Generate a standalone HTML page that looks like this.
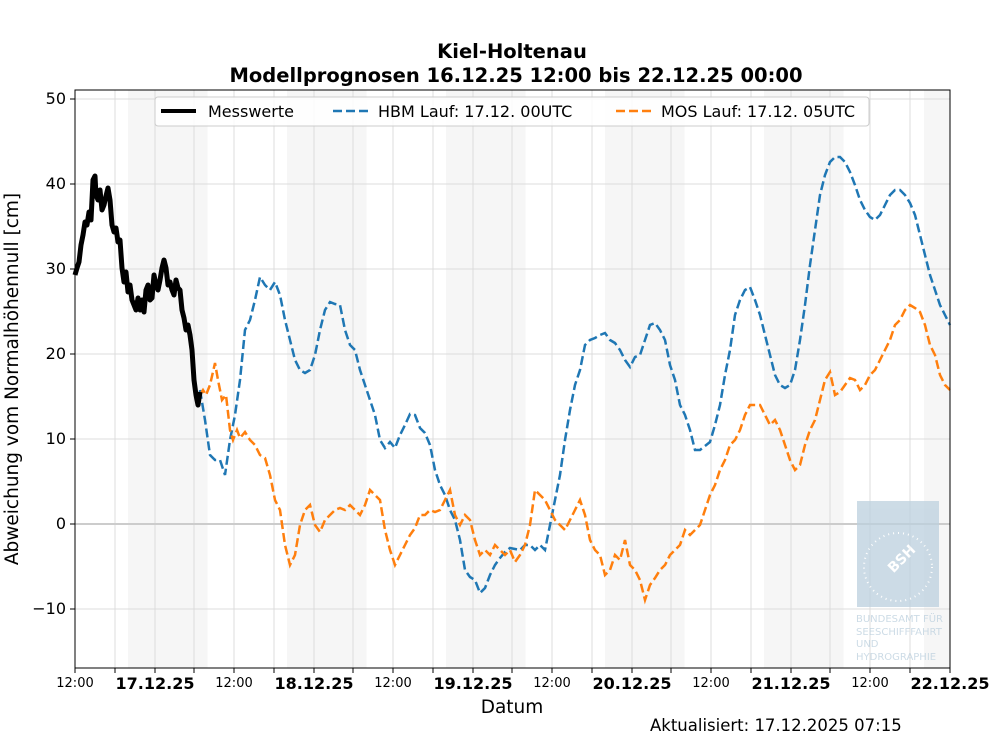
<!DOCTYPE html>
<html><head><meta charset="utf-8"><style>body{margin:0;background:#fff}svg{display:block;font-family:"DejaVu Sans","Liberation Sans",sans-serif}</style></head><body>
<svg width="1000" height="750" xmlns="http://www.w3.org/2000/svg">
<rect width="1000" height="750" fill="#fff"/>
<g fill="#f6f6f6">
<rect x="128" y="90" width="79.5" height="578"/><rect x="287" y="90" width="79.5" height="578"/><rect x="446" y="90" width="79.5" height="578"/><rect x="605" y="90" width="79.5" height="578"/><rect x="764" y="90" width="79.5" height="578"/><rect x="924" y="90" width="26" height="578"/>
</g>
<g stroke="#dcdcdc" stroke-width="1">
<path d="M115 90V668M155 90V668M194 90V668M234 90V668M274 90V668M314 90V668M353 90V668M393 90V668M433 90V668M473 90V668M512 90V668M552 90V668M592 90V668M632 90V668M671 90V668M711 90V668M751 90V668M791 90V668M830 90V668M870 90V668M910 90V668"/>
<path d="M75 609H950M75 439H950M75 354H950M75 269H950M75 184H950M75 99H950"/>
</g>
<path d="M75 524H950" stroke="#cccccc" stroke-width="2"/>
<g opacity="0.75">
<rect x="857" y="501" width="82" height="106" fill="#bcd0de"/>
<circle cx="898" cy="567" r="34" fill="none" stroke="#fff" stroke-width="2" stroke-dasharray="1 4"/>
<text x="905" y="562" fill="#fff" font-size="14" font-weight="bold" transform="rotate(-45 905 562)" text-anchor="middle">BSH</text>
<g fill="#bcd0de" font-size="10"><text x="856" y="622">BUNDESAMT FÜR</text><text x="856" y="635">SEESCHIFFFAHRT</text><text x="856" y="647">UND</text><text x="856" y="660">HYDROGRAPHIE</text></g>
</g>
<polyline fill="none" stroke="#1f77b4" stroke-width="2.5" stroke-dasharray="9 4" points="200,390 205,420 210,455 215,460 220,460 225,475 230,440 235,415 240,380 245,330 250,320 255,300 260,277 265,285 270,290 275,282 280,295 285,320 290,340 295,360 300,370 305,373 310,370 315,355 320,330 325,310 330,302 335,304 340,305 345,330 350,345 355,350 360,370 365,385 370,400 375,415 380,440 385,448 390,442 395,448 400,435 405,425 410,414 415,415 420,428 425,433 430,445 435,470 440,485 445,495 450,510 455,520 460,540 465,570 470,577 475,580 480,593 485,588 490,575 495,565 500,558 505,552 510,548 515,549 520,550 525,545 530,545 535,550 540,545 545,550 550,525 555,500 560,475 565,440 570,410 575,385 580,370 585,345 590,340 595,338 600,335 605,333 610,340 615,343 620,350 625,360 630,367 635,357 640,355 645,340 650,325 655,323 660,330 665,340 670,365 675,380 680,405 685,415 690,430 695,450 700,450 705,446 710,442 715,425 720,405 725,375 730,350 735,315 740,300 745,290 750,287 755,300 760,315 765,335 770,355 775,375 780,385 785,388 790,385 795,370 800,340 805,305 810,265 815,230 820,195 825,175 830,162 835,157 840,157 845,162 850,172 855,185 860,200 865,210 870,217 875,220 880,215 885,205 890,195 895,190 900,190 905,195 910,203 915,215 920,235 925,255 930,275 935,290 940,305 945,315 950,325"/>
<polyline fill="none" stroke="#ff7f0e" stroke-width="2.5" stroke-dasharray="9 4" points="200,395 203,390 206,395 210,385 215,363 218,380 222,400 226,395 230,430 233,440 237,430 240,438 245,432 250,440 255,445 260,455 265,458 270,475 275,500 280,510 285,545 290,565 295,555 300,525 305,510 310,505 315,525 320,532 325,520 330,515 335,510 340,508 345,510 350,505 355,510 360,515 365,505 370,490 375,495 380,500 385,530 390,550 395,565 400,555 405,545 410,535 415,528 420,515 425,515 430,510 435,512 440,510 445,500 450,490 455,515 460,525 465,515 470,520 475,540 480,555 485,550 490,555 495,545 500,550 505,555 510,550 515,562 520,555 525,545 530,525 535,490 540,495 545,500 550,510 555,520 560,525 565,530 570,520 575,510 580,500 585,515 590,540 595,550 600,555 605,575 610,570 615,555 620,560 625,540 630,565 635,570 640,580 645,600 650,585 655,578 660,570 665,565 670,555 675,550 680,545 685,530 690,535 695,530 700,525 705,510 710,495 715,485 720,470 725,460 730,445 735,440 740,430 745,415 750,405 755,405 760,405 765,415 770,425 775,420 780,430 785,445 790,460 795,470 800,465 805,445 810,430 815,420 820,400 825,380 830,372 835,395 840,392 845,385 850,378 855,380 860,390 865,385 870,375 875,370 880,360 885,350 890,340 895,325 900,320 905,310 910,305 915,308 920,312 925,325 930,345 935,355 940,375 945,385 950,390"/>
<polyline fill="none" stroke="#000" stroke-width="5" stroke-linejoin="round" points="75,275 77,268 79,262 81,245 83,235 85,222 87,225 89,212 91,220 93,180 95,176 96,195 98,200 100,190 102,210 104,205 106,196 108,188 110,200 112,225 114,232 116,228 118,242 120,240 122,268 124,282 126,272 128,292 130,285 132,300 134,305 136,310 138,298 140,310 142,300 144,312 146,290 148,285 150,300 152,298 154,275 156,285 158,290 160,280 162,268 164,260 166,268 168,285 170,282 172,290 174,295 176,280 178,288 180,290 182,310 184,318 186,330 188,325 190,335 192,350 194,380 196,395 198,405 200,392"/>
<rect x="75" y="90" width="875" height="578" fill="none" stroke="#000" stroke-width="1"/>
<g stroke="#000"><path d="M75 668v5M115 668v5M155 668v5M194 668v5M234 668v5M274 668v5M314 668v5M353 668v5M393 668v5M433 668v5M473 668v5M512 668v5M552 668v5M592 668v5M632 668v5M671 668v5M711 668v5M751 668v5M791 668v5M830 668v5M870 668v5M910 668v5M950 668v5M70 609h5M70 524h5M70 439h5M70 354h5M70 269h5M70 184h5M70 99h5"/></g>
<g font-size="13" text-anchor="middle">
<text x="75" y="687">12:00</text><text x="234" y="687">12:00</text><text x="393" y="687">12:00</text><text x="552" y="687">12:00</text><text x="711" y="687">12:00</text><text x="870" y="687">12:00</text>
</g>
<g font-size="16" font-weight="bold" text-anchor="middle">
<text x="155" y="689">17.12.25</text><text x="314" y="689">18.12.25</text><text x="473" y="689">19.12.25</text><text x="632" y="689">20.12.25</text><text x="791" y="689">21.12.25</text><text x="950" y="689">22.12.25</text>
</g>
<g font-size="16" text-anchor="end">
<text x="66" y="614">−10</text><text x="66" y="529">0</text><text x="66" y="444">10</text><text x="66" y="359">20</text><text x="66" y="274">30</text><text x="66" y="189">40</text><text x="66" y="104">50</text>
</g>
<text x="512" y="713" font-size="18.5" text-anchor="middle">Datum</text>
<text transform="translate(18 379) rotate(-90)" font-size="18.5" text-anchor="middle">Abweichung vom Normalhöhennull [cm]</text>
<text x="512" y="58" font-size="19.5" font-weight="bold" text-anchor="middle">Kiel-Holtenau</text>
<text x="516" y="82" font-size="19.5" font-weight="bold" text-anchor="middle">Modellprognosen 16.12.25 12:00 bis 22.12.25 00:00</text>
<text x="650" y="731" font-size="16.5">Aktualisiert: 17.12.2025 07:15</text>
<rect x="155" y="97" width="714" height="29" rx="3" fill="#fff" fill-opacity="0.85" stroke="#ccc"/>
<path d="M161 111h35" stroke="#000" stroke-width="4"/>
<text x="208" y="117" font-size="16">Messwerte</text>
<path d="M333 111h35" stroke="#1f77b4" stroke-width="2.5" stroke-dasharray="9 4"/>
<text x="378" y="117" font-size="16">HBM Lauf: 17.12. 00UTC</text>
<path d="M616 111h35" stroke="#ff7f0e" stroke-width="2.5" stroke-dasharray="9 4"/>
<text x="661" y="117" font-size="16">MOS Lauf: 17.12. 05UTC</text>
</svg>
</body></html>
